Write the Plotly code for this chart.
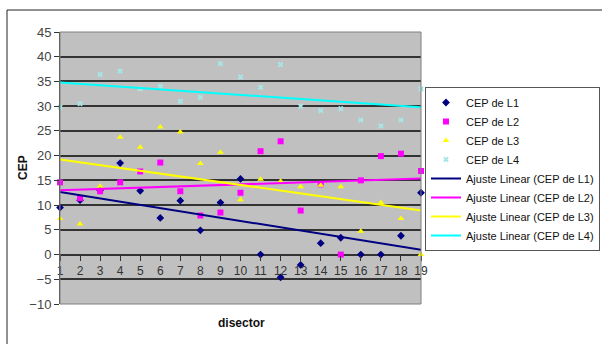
import numpy as np
import plotly.graph_objects as go

# Sampling positions along the disector
disector = list(range(1, 20))

# CEP measurements per level
cep_l1 = [9.5, 11.0, 13.0, 18.5, 12.9, 7.4, 10.9, 4.9, 10.5, 15.3,
          0.0, -4.6, -2.1, 2.3, 3.4, 0.0, 0.0, 3.8, 12.5]
cep_l2 = [14.6, 11.4, 12.8, 14.6, 16.8, 18.6, 12.8, 7.9, 8.5, 12.5,
          20.9, 22.9, 8.9, 14.2, 0.0, 15.0, 19.9, 20.4, 16.9]
cep_l3 = [7.3, 6.2, 13.8, 23.7, 21.7, 25.8, 24.8, 18.4, 20.7, 11.1,
          15.2, 14.8, 13.7, 14.0, 13.7, 4.7, 10.5, 7.3, 0.0]
cep_l4 = [29.8, 30.5, 36.4, 37.1, 33.5, 34.0, 31.0, 31.8, 38.6, 35.9,
          33.8, 38.4, 30.0, 29.1, 29.5, 27.2, 26.0, 27.2, 33.5]

series_names = ["CEP de L1", "CEP de L2", "CEP de L3", "CEP de L4"]
y_ticks = list(range(-10, 50, 5))

series = [cep_l1, cep_l2, cep_l3, cep_l4]
marker_colors = ["#000080", "#FF00FF", "#FFFF00", "#A6E6E6"]
marker_symbols = ["diamond", "square", "triangle-up", "x"]
marker_sizes = [6, 6, 6, 5]
trend_colors = ["#000080", "#FF00FF", "#FFFF00", "#00FFFF"]

fig = go.Figure()

for vals, name, col, sym, sz in zip(series, series_names, marker_colors,
                                    marker_symbols, marker_sizes):
    fig.add_trace(go.Scatter(
        x=disector, y=vals, mode="markers", name=name, cliponaxis=False,
        marker=dict(color=col, symbol=sym, size=sz, line=dict(width=0)),
    ))

# Linear trend line for each series (least-squares fit)
xs = np.array(disector, dtype=float)
for vals, name, col in zip(series, series_names, trend_colors):
    slope, icpt = np.polyfit(xs, np.array(vals, dtype=float), 1)
    fig.add_trace(go.Scatter(
        x=disector, y=(slope * xs + icpt).tolist(), mode="lines",
        name=f"Ajuste Linear ({name})",
        line=dict(color=col, width=2),
    ))

font = "Liberation Sans, Arial, sans-serif"

fig.update_layout(
    width=602, height=344,
    margin=dict(l=60, r=181, t=32, b=40, autoexpand=False),
    paper_bgcolor="white",
    plot_bgcolor="#C0C0C0",
    font=dict(family=font, size=12, color="#222222"),
    showlegend=True,
    legend=dict(
        x=(425 - 60) / 361, y=(304 - 87) / 272, xanchor="left", yanchor="top",
        bgcolor="white", bordercolor="#555555", borderwidth=1,
        font=dict(family=font, size=11, color="#111111"),
        tracegroupgap=0, itemwidth=30,
    ),
    xaxis=dict(
        range=[1, 19], tickmode="array", tickvals=disector,
        ticktext=[str(v) for v in disector],
        anchor="free", position=(0 - (-10)) / 55,
        showgrid=False, zeroline=False, showline=False,
        ticks="outside", ticklen=5, tickcolor="#333333",
        tickfont=dict(size=12, color="#333333"),
    ),
    yaxis=dict(
        range=[-10, 45], tickmode="array", tickvals=y_ticks,
        showgrid=True, gridcolor="#333333", gridwidth=1.5,
        zeroline=False, showline=True, linecolor="#444444", linewidth=1,
        ticks="outside", ticklen=5, tickcolor="#333333",
        tickfont=dict(size=13, color="#444444"),
    ),
    shapes=[
        # outer chart border
        dict(type="rect", xref="paper", yref="paper",
             x0=(7 - 60) / 361, x1=(700 - 60) / 361,
             y0=(304 - 400) / 272, y1=(304 - 10) / 272,
             line=dict(color="#222222", width=1), fillcolor="rgba(0,0,0,0)",
             layer="below"),
        # plot-area frame
        dict(type="rect", xref="paper", yref="paper", x0=0, x1=1, y0=0, y1=1,
             line=dict(color="#808080", width=1), fillcolor="rgba(0,0,0,0)"),
    ],
)

# Axis titles
fig.add_annotation(text="<b>disector</b>", xref="paper", yref="paper",
                   x=(241 - 60) / 361, y=(304 - 323) / 272,
                   xanchor="center", yanchor="middle", showarrow=False,
                   font=dict(family=font, size=12, color="#111111"))
fig.add_annotation(text="<b>CEP</b>", xref="paper", yref="paper",
                   x=(23 - 60) / 361, y=(304 - 168) / 272, textangle=-90,
                   xanchor="center", yanchor="middle", showarrow=False,
                   font=dict(family=font, size=12, color="#111111"))

fig.write_html("out.html")
